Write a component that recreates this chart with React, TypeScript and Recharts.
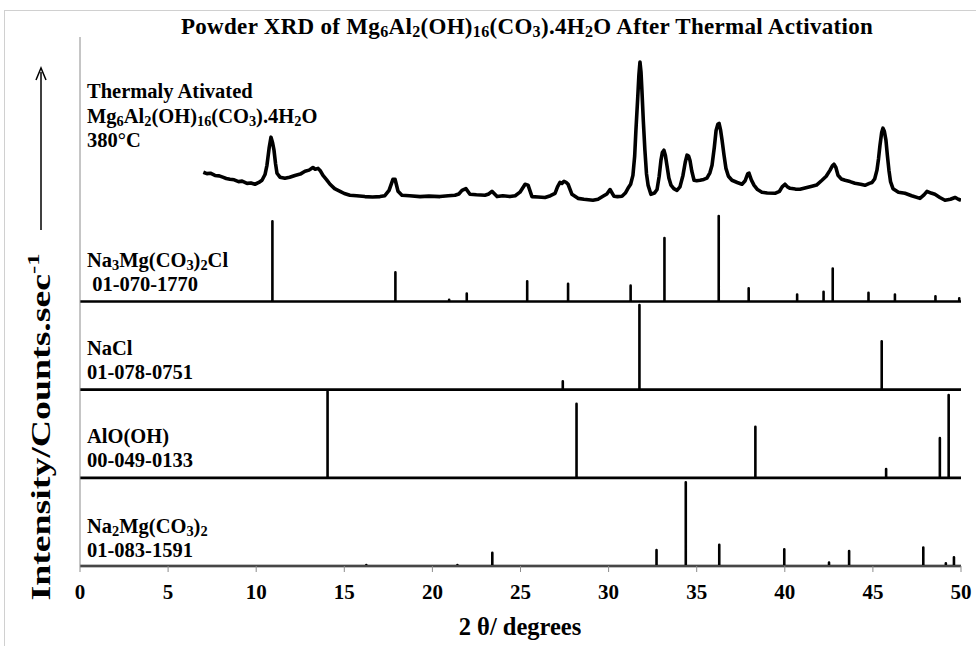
import { LineChart, Line, XAxis, YAxis } from 'recharts';

const xTicks = [0, 5, 10, 15, 20, 25, 30, 35, 40, 45, 50];
const yTicks = [0, 1, 2, 3, 4, 5, 6];

// thermally activated sample, [2θ, relative intensity above its panel floor]
const activated: [number, number][] = [
  [7.0, 0.466], [7.2, 0.45], [7.4, 0.455], [7.66, 0.43], [7.9, 0.425], [8.1, 0.41], [8.3, 0.395], [8.51, 0.386],
  [8.75, 0.38], [9.0, 0.36], [9.2, 0.365], [9.48, 0.34], [9.7, 0.345], [9.93, 0.33], [10.15, 0.35], [10.33, 0.375],
  [10.5, 0.44], [10.61, 0.545], [10.74, 0.75], [10.84, 0.864], [10.93, 0.8], [11.01, 0.716], [11.1, 0.56],
  [11.18, 0.455], [11.35, 0.41], [11.63, 0.398], [11.9, 0.41], [12.2, 0.43], [12.5, 0.445], [12.77, 0.477],
  [13.0, 0.49], [13.22, 0.52], [13.35, 0.5], [13.51, 0.51], [13.65, 0.48], [13.79, 0.43], [14.0, 0.38],
  [14.19, 0.33], [14.45, 0.28], [14.76, 0.25], [15.0, 0.225], [15.32, 0.205], [15.7, 0.2], [16.17, 0.19],
  [16.6, 0.185], [17.03, 0.19], [17.3, 0.2], [17.54, 0.26], [17.76, 0.386], [17.88, 0.386], [18.05, 0.25],
  [18.27, 0.205], [18.7, 0.2], [19.3, 0.19], [19.8, 0.195], [20.43, 0.19], [20.9, 0.2], [21.28, 0.205],
  [21.5, 0.22], [21.68, 0.26], [21.9, 0.28], [22.13, 0.216], [22.5, 0.21], [22.98, 0.205], [23.2, 0.22],
  [23.38, 0.25], [23.67, 0.19], [24.0, 0.2], [24.4, 0.19], [24.7, 0.2], [24.97, 0.24], [25.26, 0.33],
  [25.43, 0.32], [25.65, 0.19], [26.0, 0.185], [26.39, 0.18], [26.7, 0.2], [26.96, 0.227], [27.1, 0.3],
  [27.24, 0.35], [27.35, 0.34], [27.47, 0.364], [27.6, 0.35], [27.7, 0.33], [27.92, 0.216], [28.26, 0.17],
  [28.6, 0.16], [29.11, 0.148], [29.4, 0.16], [29.68, 0.193], [29.9, 0.22], [30.08, 0.27], [30.31, 0.193],
  [30.5, 0.19], [30.76, 0.193], [30.95, 0.23], [31.1, 0.284], [31.25, 0.33], [31.38, 0.43], [31.48, 0.65],
  [31.55, 0.94], [31.65, 1.3], [31.72, 1.57], [31.78, 1.716], [31.84, 1.6], [31.89, 1.4], [31.97, 1.05],
  [32.06, 0.716], [32.15, 0.45], [32.24, 0.32], [32.4, 0.216], [32.6, 0.23], [32.75, 0.27], [32.87, 0.42],
  [32.97, 0.6], [33.05, 0.69], [33.14, 0.716], [33.22, 0.66], [33.31, 0.545], [33.42, 0.4], [33.54, 0.32],
  [33.7, 0.28], [33.88, 0.26], [34.05, 0.3], [34.22, 0.43], [34.35, 0.58], [34.45, 0.66], [34.54, 0.65],
  [34.62, 0.6], [34.72, 0.48], [34.85, 0.375], [35.0, 0.37], [35.19, 0.375], [35.4, 0.385], [35.58, 0.4],
  [35.75, 0.46], [35.87, 0.545], [36.0, 0.75], [36.1, 0.94], [36.2, 1.01], [36.27, 1.02], [36.35, 0.95],
  [36.44, 0.83], [36.55, 0.66], [36.66, 0.51], [36.8, 0.42], [37.0, 0.375], [37.3, 0.35], [37.57, 0.33],
  [37.75, 0.37], [37.9, 0.45], [37.97, 0.455], [38.1, 0.38], [38.25, 0.32], [38.45, 0.27], [38.7, 0.24],
  [39.0, 0.23], [39.44, 0.227], [39.7, 0.25], [39.85, 0.3], [40.01, 0.33], [40.15, 0.3], [40.3, 0.284],
  [40.6, 0.275], [40.86, 0.273], [41.2, 0.29], [41.54, 0.307], [41.8, 0.32], [42.11, 0.375], [42.35, 0.42],
  [42.57, 0.49], [42.7, 0.54], [42.79, 0.557], [42.9, 0.52], [43.02, 0.432], [43.2, 0.39], [43.42, 0.375],
  [43.7, 0.36], [43.98, 0.341], [44.3, 0.33], [44.55, 0.318], [44.8, 0.34], [44.95, 0.35], [45.1, 0.39],
  [45.23, 0.49], [45.32, 0.62], [45.4, 0.77], [45.5, 0.92], [45.57, 0.966], [45.65, 0.93], [45.74, 0.83],
  [45.82, 0.66], [45.91, 0.49], [46.0, 0.36], [46.14, 0.28], [46.45, 0.24], [46.82, 0.227], [47.2, 0.2],
  [47.67, 0.17], [47.9, 0.21], [48.07, 0.25], [48.3, 0.23], [48.52, 0.216], [48.8, 0.18], [49.09, 0.148],
  [49.4, 0.16], [49.66, 0.18], [49.85, 0.16], [50.0, 0.148],
];

// reference cards, [2θ, relative height]
const na3mg: [number, number][] = [
  [10.92, 0.91], [17.9, 0.33], [20.95, 0.02], [21.95, 0.09], [25.38, 0.23], [27.7, 0.2], [31.25, 0.18],
  [33.17, 0.72], [36.25, 0.97], [37.95, 0.15], [40.7, 0.08], [42.2, 0.11], [42.72, 0.375], [44.75, 0.1],
  [46.25, 0.08], [48.55, 0.06], [49.9, 0.035],
];
const nacl: [number, number][] = [[27.4, 0.094], [31.75, 0.96], [45.5, 0.55]];
const alooh: [number, number][] = [[14.05, 0.98], [28.18, 0.84], [38.33, 0.58], [45.75, 0.1], [48.8, 0.45], [49.3, 0.94]];
const na2mg: [number, number][] = [
  [16.25, 0.01], [21.42, 0.01], [23.4, 0.15], [32.72, 0.18], [34.38, 0.95], [36.28, 0.24], [39.97, 0.19],
  [42.51, 0.04], [43.65, 0.17], [47.86, 0.21], [49.14, 0.03], [49.6, 0.1],
];

function trace(pts: [number, number][], floor: number) {
  return pts.map(([x, y]) => ({ x, y: y + floor }));
}

function sticks(peaks: [number, number][], floor: number) {
  const out = [{ x: 0, y: floor }];
  peaks.forEach(([x, h]) => {
    out.push({ x, y: floor }, { x, y: floor + h }, { x, y: floor });
  });
  out.push({ x: 50, y: floor });
  return out;
}

const serif = '"Liberation Serif", "Times New Roman", serif';
const grey = '#8c8c8c';

const label: React.CSSProperties = {
  position: 'absolute', left: 87, fontFamily: serif, fontWeight: 'bold', fontSize: 20.5, lineHeight: '23.5px',
  color: '#000', whiteSpace: 'nowrap',
};
const sub: React.CSSProperties = { fontSize: '0.7em', verticalAlign: '-0.2em', lineHeight: 0 };

export default function App() {
  const series = [
    { key: 'act', data: trace(activated, 4) },
    { key: 'na3mg', data: sticks(na3mg, 3) },
    { key: 'nacl', data: sticks(nacl, 2) },
    { key: 'alooh', data: sticks(alooh, 1) },
    { key: 'na2mg', data: sticks(na2mg, 0) },
  ];

  return (
    <div style={{ position: 'absolute', left: 0, top: 0, width: 976, height: 646, overflow: 'hidden', background: '#fff' }}>
      <div style={{ position: 'absolute', left: 4, top: 10, width: 1000, height: 700, borderTop: '1px solid #d0d0d0', borderLeft: '1px solid #d0d0d0' }} />
      <LineChart width={976} height={646} margin={{ top: 37, right: 15, bottom: 50, left: 60 }}>
        <XAxis
          type="number" dataKey="x" domain={[0, 50]} ticks={xTicks} interval={0} height={30}
          stroke={grey} tickSize={6} tickMargin={12} allowDataOverflow
          tick={{ fill: '#000', fontSize: 21, fontWeight: 'bold', fontFamily: serif }}
        />
        <YAxis type="number" domain={[0, 6]} ticks={yTicks} width={20} stroke={grey} tickSize={6} tick={false} />
        {series.map((s) => (
          <Line
            key={s.key} data={s.data} dataKey="y" type="linear" stroke="#000"
            strokeWidth={s.key === 'act' ? 3.6 : 2.6} dot={false} activeDot={false}
            isAnimationActive={false} strokeLinejoin="round"
          />
        ))}
      </LineChart>

      <div style={{ position: 'absolute', left: 78, width: 898, top: 13, textAlign: 'center', fontFamily: serif, fontWeight: 'bold', fontSize: 23, letterSpacing: 0.3, lineHeight: '28px', whiteSpace: 'nowrap' }}>
        Powder XRD of Mg<span style={sub}>6</span>Al<span style={sub}>2</span>(OH)<span style={sub}>16</span>(CO<span style={sub}>3</span>).4H<span style={sub}>2</span>O After Thermal Activation
      </div>

      <div style={{ ...label, top: 79, lineHeight: '24.5px' }}>
        Thermaly Ativated<br />
        Mg<span style={sub}>6</span>Al<span style={sub}>2</span>(OH)<span style={sub}>16</span>(CO<span style={sub}>3</span>).4H<span style={sub}>2</span>O<br />
        380°C
      </div>
      <div style={{ ...label, top: 249 }}>
        Na<span style={sub}>3</span>Mg(CO<span style={sub}>3</span>)<span style={sub}>2</span>Cl<br />
        &nbsp;01-070-1770
      </div>
      <div style={{ ...label, top: 337 }}>
        NaCl<br />
        01-078-0751
      </div>
      <div style={{ ...label, top: 425 }}>
        AlO(OH)<br />
        00-049-0133
      </div>
      <div style={{ ...label, top: 515 }}>
        Na<span style={sub}>2</span>Mg(CO<span style={sub}>3</span>)<span style={sub}>2</span><br />
        01-083-1591
      </div>

      <div style={{ position: 'absolute', left: 400, width: 240, top: 613, textAlign: 'center', fontFamily: serif, fontWeight: 'bold', fontSize: 24.5, lineHeight: '28px' }}>
        2 θ/ degrees
      </div>

      <div style={{ position: 'absolute', left: 41, top: 427, width: 0, height: 0 }}>
        <div style={{ position: 'absolute', left: 0, top: 0, transform: 'translate(-50%, -50%) rotate(-90deg) scaleX(1.4)', fontFamily: serif, fontWeight: 'bold', fontSize: 27, whiteSpace: 'nowrap', lineHeight: '30px' }}>
          Intensity/Counts.sec<sup style={{ fontSize: '0.65em', verticalAlign: '0.6em', lineHeight: 0 }}>-1</sup>
        </div>
      </div>
      <svg style={{ position: 'absolute', left: 0, top: 0 }} width={80} height={646}>
        <line x1={41} y1={230} x2={41} y2={72} stroke="#000" strokeWidth={1.5} />
        <path d="M36,80 L41,68 L46,80" fill="none" stroke="#000" strokeWidth={1.5} />
      </svg>
    </div>
  );
}
